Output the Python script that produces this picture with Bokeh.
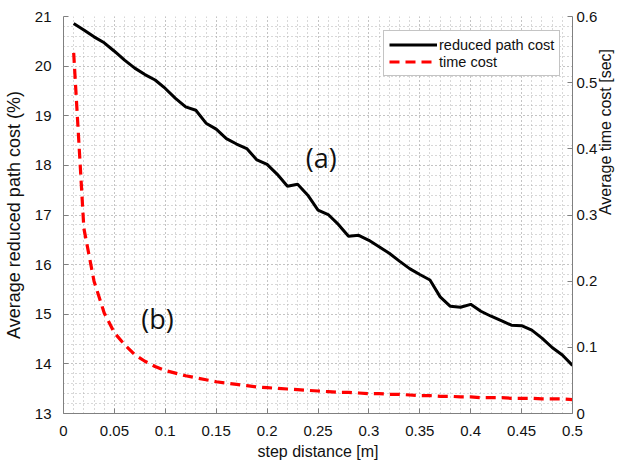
import math
from bokeh.plotting import figure
from bokeh.models import (LinearAxis, Range1d, Legend, LegendItem, Label,
                          FixedTicker)
from bokeh.embed import file_html
from bokeh.resources import INLINE

# ---- data ----
step = [round(0.01 * i, 2) for i in range(1, 51)]
reduced_path_cost = [
    20.86, 20.73, 20.59, 20.47, 20.30, 20.12, 19.96, 19.83, 19.72, 19.55,
    19.35, 19.18, 19.11, 18.85, 18.73, 18.54, 18.43, 18.34, 18.11, 18.02,
    17.82, 17.58, 17.62, 17.40, 17.10, 17.01, 16.81, 16.57, 16.59, 16.49,
    16.36, 16.23, 16.07, 15.92, 15.80, 15.69, 15.35, 15.16, 15.14, 15.20,
    15.06, 14.96, 14.87, 14.78, 14.77, 14.68, 14.52, 14.33, 14.18, 13.97,
]
time_cost = [
    0.545, 0.280, 0.200, 0.152, 0.122, 0.104, 0.089, 0.079, 0.071, 0.065,
    0.061, 0.057, 0.054, 0.051, 0.048, 0.046, 0.044, 0.042, 0.040, 0.039,
    0.038, 0.037, 0.036, 0.035, 0.034, 0.033, 0.032, 0.032, 0.031, 0.030,
    0.030, 0.029, 0.029, 0.028, 0.027, 0.027, 0.026, 0.026, 0.025, 0.025,
    0.024, 0.024, 0.024, 0.023, 0.023, 0.023, 0.022, 0.022, 0.022, 0.021,
]
x_ticks = [0, 0.05, 0.1, 0.15, 0.2, 0.25, 0.3, 0.35, 0.4, 0.45, 0.5]
left_ticks = [13, 14, 15, 16, 17, 18, 19, 20, 21]
right_ticks = [0, 0.1, 0.2, 0.3, 0.4, 0.5, 0.6]

TICK_FONT = "Liberation Sans"
AX_COLOR = "#808080"
TXT_COLOR = "#111111"

p = figure(width=625, height=465, output_backend="svg", toolbar_location=None,
           x_range=Range1d(0, 0.5), y_range=Range1d(13, 21),
           min_border_left=56, min_border_right=52, min_border_top=16,
           min_border_bottom=52)
p.extra_y_ranges = {"time": Range1d(0, 0.6)}
p.outline_line_color = None
p.background_fill_color = "white"

def style_axis(ax):
    ax.axis_line_color = AX_COLOR
    ax.major_tick_line_color = AX_COLOR
    ax.minor_tick_line_color = None
    ax.major_tick_in = 5
    ax.major_tick_out = 0
    ax.major_label_text_font = TICK_FONT
    ax.major_label_text_font_size = "15px"
    ax.major_label_text_color = TXT_COLOR
    ax.axis_label_text_font = TICK_FONT
    ax.axis_label_text_font_style = "normal"
    ax.axis_label_text_color = TXT_COLOR

p.xaxis.ticker = FixedTicker(ticks=x_ticks,
                             minor_ticks=[round(0.01 * i, 2) for i in range(0, 51)])
p.xaxis.axis_label = "step distance [m]"
p.xaxis.major_label_standoff = 8
p.xaxis.axis_label_standoff = 4
style_axis(p.xaxis[0])
p.xaxis.axis_label_text_font_size = "16px"

p.yaxis.ticker = FixedTicker(ticks=left_ticks,
                             minor_ticks=[13 + 0.2 * i for i in range(0, 41)])
p.yaxis.axis_label = "Average reduced path cost (%)"
p.yaxis.major_label_standoff = 8
p.yaxis.axis_label_standoff = 8
style_axis(p.yaxis[0])
p.yaxis.axis_label_text_font_size = "18px"

rax = LinearAxis(y_range_name="time", ticker=FixedTicker(ticks=right_ticks),
                 axis_label="Average time cost [sec]")
rax.major_label_standoff = 4
rax.axis_label_standoff = 5
style_axis(rax)
rax.axis_label_text_font_size = "16px"
if "axis_label_orientation" in rax.properties():
    rax.axis_label_orientation = math.pi / 2
    rax.axis_label_text_align = "center"
    rax.axis_label_text_baseline = "top"
p.add_layout(rax, "right")

for g in (p.xgrid[0], p.ygrid[0]):
    g.grid_line_color = "#b0b0b0"
    g.grid_line_dash = "1 3"
    g.grid_line_width = 1
    g.minor_grid_line_color = "#b0b0b0"
    g.minor_grid_line_dash = "1 3"
    g.minor_grid_line_width = 1

r1 = p.line(step, reduced_path_cost, line_color="black", line_width=3)
r2 = p.line(step, time_cost, line_color="#ff0000", line_width=3.2,
            line_dash="10 6", y_range_name="time")

legend = Legend(items=[LegendItem(label="reduced path cost", renderers=[r1]),
                       LegendItem(label="time cost", renderers=[r2])],
                location=(320, 337))
legend.label_text_font = TICK_FONT
legend.label_text_font_size = "14.5px"
legend.label_text_color = TXT_COLOR
legend.glyph_width = 48
legend.glyph_height = 17
legend.label_height = 17
legend.label_standoff = 2
legend.padding = 5
legend.spacing = 0
legend.margin = 0
legend.border_line_color = "#8a8a8a"
legend.border_line_width = 1
legend.background_fill_color = "white"
legend.background_fill_alpha = 1
p.add_layout(legend, "center")

p.add_layout(Label(x=0.238, y=18.15, text="(a)", text_font="Open Sans",
                   text_font_size="27px", text_color=TXT_COLOR,
                   text_baseline="alphabetic"))
p.add_layout(Label(x=0.0764, y=14.92, text="(b)", text_font="Open Sans",
                   text_font_size="27px", text_color=TXT_COLOR,
                   text_baseline="alphabetic"))

open("out.html", "w").write(file_html(p, INLINE))
